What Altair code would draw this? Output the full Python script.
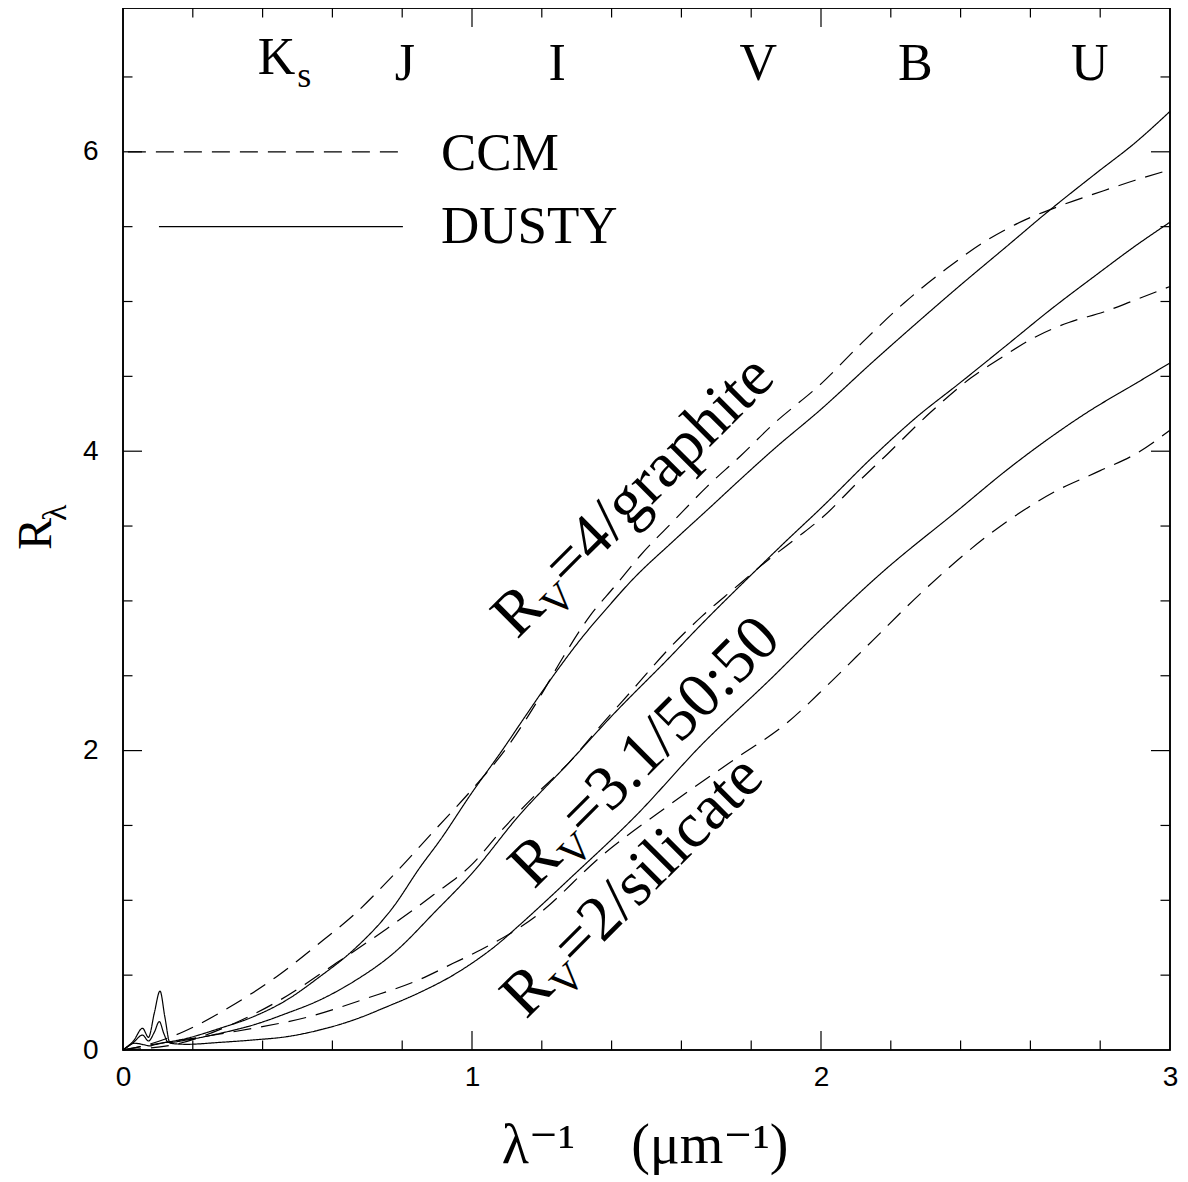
import altair as alt
import pandas as pd

# ---------------- data ----------------
GRA_DUSTY_X = [0, 0.034, 0.06, 0.077, 0.087, 0.183, 0.278, 0.373, 0.469, 0.564, 0.66, 0.775, 0.851, 0.908,
               1.0, 1.086, 1.15, 1.233, 1.31, 1.386, 1.459, 1.577, 1.68, 1.768, 1.863, 2.0, 2.15, 2.276,
               2.4, 2.533, 2.65, 2.79, 2.9, 3.0]
GRA_DUSTY_Y = [0, 0.045, 0.035, 0.027, 0.033, 0.078, 0.145, 0.222, 0.334, 0.49, 0.668, 0.957, 1.22, 1.40,
               1.72, 2.0, 2.22, 2.50, 2.74, 2.95, 3.14, 3.40, 3.62, 3.81, 4.01, 4.28, 4.60, 4.86,
               5.11, 5.37, 5.60, 5.86, 6.06, 6.27]

GRA_CCM_X = [0, 0.049, 0.173, 0.307, 0.44, 0.574, 0.66, 0.775, 0.889, 1.0, 1.1, 1.195, 1.26, 1.338, 1.41,
             1.481, 1.58, 1.672, 1.77, 1.863, 2.0, 2.12, 2.238, 2.36, 2.476, 2.58, 2.686, 2.81, 2.9, 3.0]
GRA_CCM_Y = [0, 0.022, 0.122, 0.289, 0.49, 0.735, 0.90, 1.169, 1.458, 1.74, 2.02, 2.36, 2.62, 2.90, 3.10,
             3.30, 3.54, 3.76, 3.97, 4.18, 4.45, 4.73, 4.99, 5.22, 5.41, 5.54, 5.64, 5.74, 5.81, 5.88]

MIX_DUSTY_X = [0, 0.03, 0.056, 0.073, 0.09, 0.104, 0.117, 0.13, 0.183, 0.278, 0.373, 0.469, 0.564, 0.66,
               0.775, 0.899, 1.0, 1.134, 1.278, 1.402, 1.565, 1.66, 1.794, 1.9, 2.0, 2.152, 2.27, 2.4,
               2.533, 2.66, 2.79, 2.9, 3.0]
MIX_DUSTY_Y = [0, 0.05, 0.10, 0.06, 0.12, 0.19, 0.11, 0.05, 0.067, 0.111, 0.167, 0.245, 0.334, 0.456,
               0.646, 0.935, 1.18, 1.564, 1.92, 2.235, 2.62, 2.85, 3.16, 3.40, 3.62, 3.97, 4.22, 4.46,
               4.71, 4.95, 5.18, 5.37, 5.53]

MIX_CCM_X = [0, 0.163, 0.297, 0.45, 0.603, 0.756, 0.889, 1.0, 1.086, 1.18, 1.278, 1.37, 1.469, 1.56, 1.66,
             1.75, 1.852, 1.93, 2.01, 2.1, 2.19, 2.314, 2.43, 2.52, 2.62, 2.71, 2.81, 2.9, 3.0]
MIX_CCM_Y = [0, 0.045, 0.156, 0.334, 0.568, 0.81, 1.035, 1.24, 1.47, 1.70, 1.92, 2.17, 2.43, 2.67, 2.90,
             3.08, 3.28, 3.42, 3.57, 3.78, 3.98, 4.26, 4.49, 4.63, 4.77, 4.86, 4.93, 5.01, 5.10]

SIL_DUSTY_X = [0, 0.03, 0.056, 0.073, 0.09, 0.106, 0.12, 0.135, 0.183, 0.278, 0.373, 0.469, 0.564, 0.66,
               0.756, 0.851, 0.946, 1.0, 1.07, 1.134, 1.2, 1.278, 1.469, 1.66, 1.852, 2.0, 2.17, 2.4, 2.53,
               2.65, 2.77, 2.9, 3.0]
SIL_DUSTY_Y = [0, 0.06, 0.145, 0.085, 0.25, 0.394, 0.22, 0.045, 0.038, 0.051, 0.067, 0.089, 0.134, 0.20,
               0.289, 0.385, 0.50, 0.58, 0.70, 0.83, 0.97, 1.14, 1.564, 2.044, 2.47, 2.81, 3.18, 3.62, 3.87,
               4.08, 4.27, 4.45, 4.59]

SIL_CCM_X = [0, 0.106, 0.23, 0.373, 0.526, 0.698, 0.851, 0.946, 1.0, 1.182, 1.373, 1.565, 1.756, 1.9,
             2.02, 2.15, 2.29, 2.48, 2.67, 2.8, 2.9, 3.0]
SIL_CCM_Y = [0, 0.045, 0.089, 0.145, 0.218, 0.345, 0.472, 0.579, 0.64, 0.892, 1.30, 1.636, 1.948, 2.18,
             2.44, 2.74, 3.06, 3.44, 3.73, 3.87, 3.98, 4.14]

MODELS = ["CCM", "DUSTY"]
BANDS = ["J", "I", "V", "B", "U"]
BAND_X = [0.808, 1.244, 1.82, 2.27, 2.77]
CURVE_LABELS = ["=4/graphite", "=3.1/50:50", "=2/silicate"]

X_LABEL_VALUES = [0, 1, 2, 3]
Y_LABEL_VALUES = [0, 2, 4, 6]
X_MAJOR = [1, 2]
X_MINOR = [0.2, 0.4, 0.6, 0.8, 1.2, 1.4, 1.6, 1.8, 2.2, 2.4, 2.6, 2.8]
Y_MAJOR = [2, 4, 6]
Y_MINOR = [0.5, 1, 1.5, 2.5, 3, 3.5, 4.5, 5, 5.5, 6.5]

# ---------------- geometry ----------------
W, H = 1047, 1042
PX_X = W / 3.0
PX_Y = 149.7
YMAX = H / PX_Y
SERIF = "Liberation Serif, DejaVu Serif, serif"
SANS = "Liberation Sans, Arial, sans-serif"

def series(xs, ys, name, model):
    return pd.DataFrame({"x": xs, "y": ys, "series": name, "model": model, "idx": range(len(xs))})

curves = pd.concat([
    series(GRA_DUSTY_X, GRA_DUSTY_Y, "graphite DUSTY", "DUSTY"),
    series(GRA_CCM_X, GRA_CCM_Y, "graphite CCM", "CCM"),
    series(MIX_DUSTY_X, MIX_DUSTY_Y, "50:50 DUSTY", "DUSTY"),
    series(MIX_CCM_X, MIX_CCM_Y, "50:50 CCM", "CCM"),
    series(SIL_DUSTY_X, SIL_DUSTY_Y, "silicate DUSTY", "DUSTY"),
    series(SIL_CCM_X, SIL_CCM_Y, "silicate CCM", "CCM"),
], ignore_index=True)

xscale = alt.Scale(domain=[0, 3], nice=False, zero=False)
yscale = alt.Scale(domain=[0, YMAX], nice=False, zero=False)
dash = alt.StrokeDash("model:N", scale=alt.Scale(domain=MODELS, range=[[18, 10], [1, 0]]), legend=None)

lines = alt.Chart(curves).mark_line(color="black", strokeWidth=1.2, interpolate="monotone").encode(
    x=alt.X("x:Q", scale=xscale,
            axis=alt.Axis(values=X_LABEL_VALUES, ticks=False, domain=False, grid=False, title=None,
                          format="d", labelFont=SANS, labelFontSize=28, labelColor="black",
                          labelPadding=13, labelFlush=False)),
    y=alt.Y("y:Q", scale=yscale,
            axis=alt.Axis(values=Y_LABEL_VALUES, ticks=False, domain=False, grid=False, title=None,
                          format="d", labelFont=SANS, labelFontSize=28, labelColor="black",
                          labelPadding=25, labelFlush=False)),
    detail="series:N",
    strokeDash=dash,
    order="idx:Q",
)

# ---------------- frame and inward ticks on all four sides ----------------
frame = alt.Chart(pd.DataFrame({"x": [0], "x2": [3], "y": [0], "y2": [YMAX]})).mark_rect(
    fill="white", fillOpacity=0, stroke="black", strokeWidth=1.6).encode(
    x=alt.X("x:Q", scale=xscale), x2="x2:Q", y=alt.Y("y:Q", scale=yscale), y2="y2:Q")

LX_MAJ, LX_MIN = 19 / PX_Y, 9.5 / PX_Y
LY_MAJ, LY_MIN = 19 / PX_X, 9.5 / PX_X
rows = []
for v in X_MAJOR + X_MINOR:
    L = LX_MAJ if v in X_MAJOR else LX_MIN
    rows.append({"x": v, "x2": v, "y": 0, "y2": L})
    rows.append({"x": v, "x2": v, "y": YMAX, "y2": YMAX - L})
for v in Y_MAJOR + Y_MINOR:
    L = LY_MAJ if v in Y_MAJOR else LY_MIN
    rows.append({"x": 0, "x2": L, "y": v, "y2": v})
    rows.append({"x": 3, "x2": 3 - L, "y": v, "y2": v})
ticks = alt.Chart(pd.DataFrame(rows)).mark_rule(color="black", strokeWidth=1.2).encode(
    x=alt.X("x:Q", scale=xscale), x2="x2:Q", y=alt.Y("y:Q", scale=yscale), y2="y2:Q")

# ---------------- legend ----------------
leg_lines = pd.DataFrame({"model": MODELS, "x": [0.014, 0.103], "x2": [0.802, 0.802], "y": [6.0, 5.5]})
legend_rules = alt.Chart(leg_lines).mark_rule(color="black", strokeWidth=1.2).encode(
    x=alt.X("x:Q", scale=xscale), x2="x2:Q", y=alt.Y("y:Q", scale=yscale), strokeDash=dash)
legend_text = alt.Chart(pd.DataFrame({"t": MODELS, "x": [0.911, 0.911], "y": [5.878, 5.39]})).mark_text(
    font=SERIF, fontSize=53, align="left", baseline="alphabetic", color="black").encode(
    x=alt.X("x:Q", scale=xscale), y=alt.Y("y:Q", scale=yscale), text="t:N")

# ---------------- band labels ----------------
band_text = alt.Chart(pd.DataFrame({"t": BANDS, "x": BAND_X, "y": [6.48] * len(BANDS)})).mark_text(
    font=SERIF, fontSize=52, align="center", baseline="alphabetic", color="black").encode(
    x=alt.X("x:Q", scale=xscale), y=alt.Y("y:Q", scale=yscale), text="t:N")
k_text = alt.Chart(pd.DataFrame({"t": ["K"], "x": [0.44], "y": [6.52]})).mark_text(
    font=SERIF, fontSize=52, align="center", baseline="alphabetic", color="black").encode(
    x=alt.X("x:Q", scale=xscale), y=alt.Y("y:Q", scale=yscale), text="t:N")
s_text = alt.Chart(pd.DataFrame({"t": ["s"], "x": [0.499], "y": [6.43]})).mark_text(
    font=SERIF, fontSize=36, align="left", baseline="alphabetic", color="black").encode(
    x=alt.X("x:Q", scale=xscale), y=alt.Y("y:Q", scale=yscale), text="t:N")

# ---------------- rotated curve labels ----------------
FS = 64
FS_SUB = 41
anchors = pd.DataFrame({"x": [1.129, 1.178, 1.155], "y": [2.739, 1.069, 0.200],
                        "rest": CURVE_LABELS, "R": ["R"] * 3, "V": ["V"] * 3})
def rot(field, size, dx, dy):
    return alt.Chart(anchors).mark_text(
        font=SERIF, fontSize=size, angle=315, align="left", baseline="alphabetic",
        dx=dx, dy=dy, color="black").encode(
        x=alt.X("x:Q", scale=xscale), y=alt.Y("y:Q", scale=yscale), text=f"{field}:N")
rot_R = rot("R", FS, 0, 0)
rot_V = rot("V", FS_SUB, round(0.667 * FS), 14)
rot_rest = rot("rest", FS, round(0.667 * FS + 0.722 * FS_SUB), 0)

# ---------------- axis titles ----------------
xtitle = alt.Chart(pd.DataFrame({"t": ["λ⁻¹\u2003(μm⁻¹)"]})).mark_text(
    font=SERIF, fontSize=56, align="center", baseline="alphabetic", color="black").encode(
    x=alt.value(645 - 123), y=alt.value(1163 - 8), text="t:N")
ytitle_R = alt.Chart(pd.DataFrame({"t": ["R"]})).mark_text(
    font=SERIF, fontSize=48, angle=270, align="left", baseline="alphabetic", color="black").encode(
    x=alt.value(51 - 123), y=alt.value(550 - 8), text="t:N")
ytitle_l = alt.Chart(pd.DataFrame({"t": ["λ"]})).mark_text(
    font=SERIF, fontSize=34, angle=270, align="left", baseline="alphabetic", color="black").encode(
    x=alt.value(66 - 123), y=alt.value(521 - 8), text="t:N")

chart = alt.layer(
    lines, ticks, frame, legend_rules, legend_text, band_text, k_text, s_text,
    rot_R, rot_V, rot_rest, xtitle, ytitle_R, ytitle_l,
).properties(
    width=W, height=H,
    padding={"left": 115, "top": 0, "right": 10, "bottom": 130},
    autosize=alt.AutoSizeParams(type="none"),
).configure_view(stroke="black", strokeWidth=1.5)

chart.save("out.html", embed_options={"renderer": "svg", "actions": False})
